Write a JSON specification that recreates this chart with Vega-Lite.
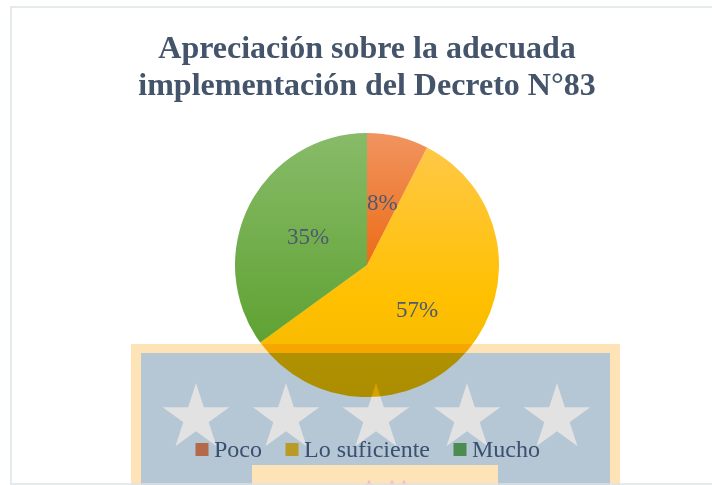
{
"$schema":"https://vega.github.io/schema/vega-lite/v6.json",
"width":690,"height":440,"autosize":"none","padding":{"left":22,"top":45,"right":0,"bottom":0},
"background":"white",
"config":{"view":{"stroke":null},"font":"Liberation Serif"},
"title":{"text":["Apreciación sobre la adecuada","implementación del Decreto N°83"],"font":"Liberation Serif","fontSize":32,"fontWeight":"bold","color":"#44546a","anchor":"middle","frame":"group","lineHeight":37,"baseline":"alphabetic","offset":0,"dy":121},
"data":{"values":[
{"categoria":"Poco","orden":1,"valor":7.5,"etiqueta":"8%"},
{"categoria":"Lo suficiente","orden":2,"valor":57.5,"etiqueta":"57%"},
{"categoria":"Mucho","orden":3,"valor":35,"etiqueta":"35%"}]},
"layer":[
{"data":{"values":[{"x":131,"x2":620,"y":344,"y2":485}]},"mark":{"type":"rect","color":"#fde3b6"},
 "encoding":{"x":{"field":"x","type":"quantitative","scale":{"domain":[22,712],"nice":false,"zero":false},"axis":null},"x2":{"field":"x2"},"y":{"field":"y","type":"quantitative","scale":{"domain":[485,45],"nice":false,"zero":false},"axis":null},"y2":{"field":"y2"}}},
{"data":{"values":[{"x":141,"x2":610,"y":353,"y2":485}]},"mark":{"type":"rect","color":"#b5c6d4"},
 "encoding":{"x":{"field":"x","type":"quantitative","axis":null},"x2":{"field":"x2"},"y":{"field":"y","type":"quantitative","axis":null},"y2":{"field":"y2"}}},
{"data":{"values":[{"x":196,"y":418},{"x":286,"y":418},{"x":376,"y":418},{"x":467,"y":418},{"x":557,"y":418}]},
 "mark":{"type":"point","filled":true,"opacity":1,"color":"#e2e2e2","size":4900,"shape":"M0,-1L.2245,-.309L.951,-.309L.363,.118L.588,.809L0,.382L-.588,.809L-.363,.118L-.951,-.309L-.2245,-.309Z"},
 "encoding":{"x":{"field":"x","type":"quantitative","axis":null},"y":{"field":"y","type":"quantitative","axis":null}}},
{"data":{"values":[{"x":252,"x2":498,"y":465,"y2":485}]},"mark":{"type":"rect","color":"#fde3b6"},
 "encoding":{"x":{"field":"x","type":"quantitative","axis":null},"x2":{"field":"x2"},"y":{"field":"y","type":"quantitative","axis":null},"y2":{"field":"y2"}}},
{"data":{"values":[{"x":369,"y":483},{"x":392,"y":483},{"x":404,"y":483}]},"mark":{"type":"point","filled":true,"opacity":1,"color":"#f6b9cb","size":60,"shape":"triangle-up"},
 "encoding":{"x":{"field":"x","type":"quantitative","axis":null},"y":{"field":"y","type":"quantitative","axis":null}}},
{"data":{"values":[{"x":11,"x2":730,"y":7,"y2":484}]},"mark":{"type":"rect","fillOpacity":0,"stroke":"#dde3e8","strokeWidth":1.5},
 "encoding":{"x":{"field":"x","type":"quantitative","axis":null},"x2":{"field":"x2"},"y":{"field":"y","type":"quantitative","axis":null},"y2":{"field":"y2"}}},
{"mark":{"type":"arc","outerRadius":0,"innerRadius":0},
 "encoding":{"theta":{"field":"valor","type":"quantitative","stack":true},"order":{"field":"orden"},
 "color":{"field":"categoria","type":"nominal","sort":["Poco","Lo suficiente","Mucho"],
 "scale":{"domain":["Poco","Lo suficiente","Mucho"],"range":["#b3694a","#b89a25","#4c8c4e"]},
 "legend":{"title":null,"orient":"none","legendX":168,"legendY":392.5,"direction":"horizontal","symbolType":"square","symbolSize":169,"symbolStrokeWidth":0,"symbolOpacity":1,"labelFont":"Liberation Serif","labelFontSize":24,"labelColor":"#3a5070","labelOffset":0,"columnPadding":18,"labelLimit":300}}}},
{"mark":{"type":"arc","outerRadius":132,"blend":"multiply"},
 "encoding":{"theta":{"field":"valor","type":"quantitative","stack":true},"order":{"field":"orden"},"detail":{"field":"categoria"},
 "fill":{"condition":[
 {"test":"datum.categoria==='Poco'","value":{"gradient":"linear","x1":0,"y1":0,"x2":0,"y2":1,"stops":[{"offset":0,"color":"#f19460"},{"offset":1,"color":"#ec6c16"}]}},
 {"test":"datum.categoria==='Lo suficiente'","value":{"gradient":"linear","x1":0,"y1":0,"x2":0,"y2":1,"stops":[{"offset":0,"color":"#ffc846"},{"offset":0.6,"color":"#ffc000"},{"offset":1,"color":"#f2b600"}]}}],
 "value":{"gradient":"linear","x1":0,"y1":0,"x2":0,"y2":1,"stops":[{"offset":0,"color":"#88bb69"},{"offset":1,"color":"#5fa232"}]}}}},
{"mark":{"type":"text","radius":66,"dy":2,"font":"Liberation Serif","fontSize":23,"color":"#4b5a72"},
 "encoding":{"theta":{"field":"valor","type":"quantitative","stack":true},"order":{"field":"orden"},"detail":{"field":"categoria"},"text":{"field":"etiqueta"}}}
]
}
